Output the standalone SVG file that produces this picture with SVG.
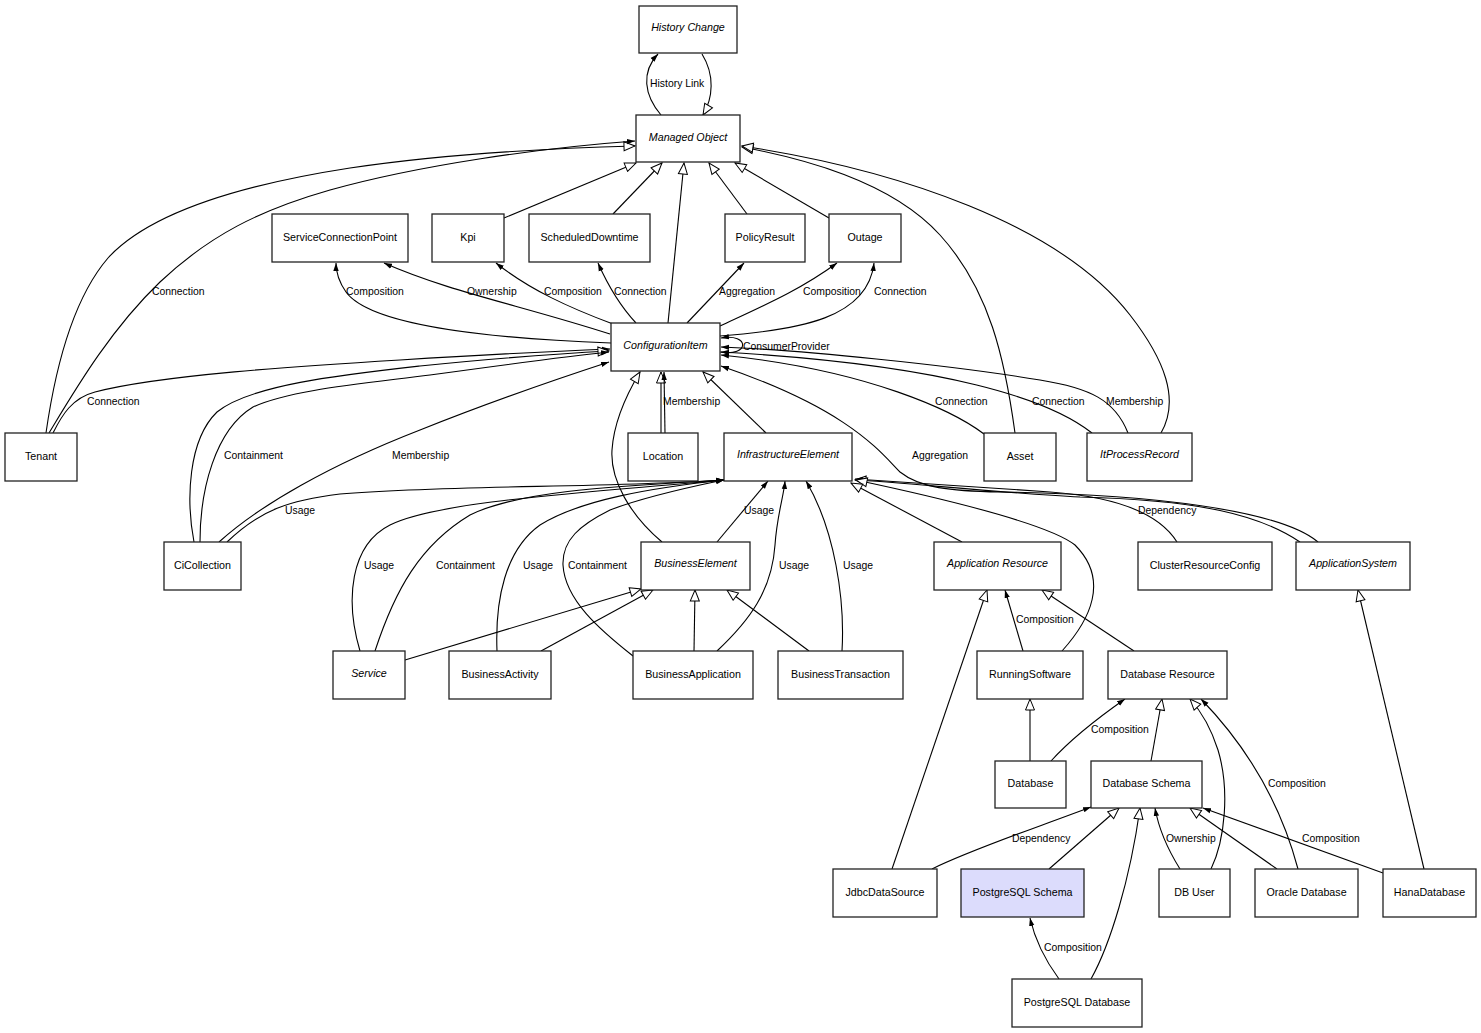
<svg xmlns="http://www.w3.org/2000/svg" width="1481" height="1033" viewBox="0 0 1481 1033">
<style>
.n rect{fill:#fff;stroke:#222;stroke-width:1.3}
.n text{font-family:"Liberation Sans",Arial,sans-serif;font-size:10.7px;text-anchor:middle;fill:#000}
.n.i text{font-style:italic}
#edges path{fill:none;stroke:#000;stroke-width:1.1}
#edges .g{marker-end:url(#gen)}
#edges .a{marker-end:url(#arr)}
#labels text{font-family:"Liberation Sans",Arial,sans-serif;font-size:10.4px;fill:#000}
</style>
<defs>
<marker id="gen" markerUnits="userSpaceOnUse" markerWidth="13" markerHeight="11" refX="12" refY="5.5" orient="auto"><path d="M1,1 L12,5.5 L1,10 Z" fill="#fff" stroke="#000" stroke-width="1"/></marker>
<marker id="arr" markerUnits="userSpaceOnUse" markerWidth="9" markerHeight="7" refX="8" refY="3.5" orient="auto"><path d="M0,0.8 L8,3.5 L0,6.2 Z" fill="#000"/></marker>
</defs>
<rect width="1481" height="1033" fill="#fff"/>
<g id="edges">
<path class="a" d="M661,115 C644,95 641,72 658,54"/>
<path class="g" d="M702,54 C715,75 713,98 703,115"/>
<path class="g" d="M46,433 C55,370 72,300 108,258 C150,212 240,185 350,168 C450,153 560,148 635,146"/>
<path class="a" d="M49,433 C75,390 110,330 160,282 C210,235 260,210 330,190 C420,165 540,148 635,141"/>
<path class="a" d="M53,433 C62,415 72,398 95,392 C160,375 300,366 400,360 C480,355 560,351 610,349"/>
<path class="a" d="M611,343 C480,338 370,325 346,292 C339,282 336,272 336,263"/>
<path class="a" d="M610,334 C520,305 450,292 384,263"/>
<path class="a" d="M613,324 C570,308 530,290 496,263"/>
<path class="a" d="M636,323 C622,308 610,290 598,263"/>
<path class="g" d="M668,323 L684,163"/>
<path class="a" d="M687,323 L744,263"/>
<path class="a" d="M720,326 C765,305 800,290 837,263"/>
<path class="a" d="M720,336 C800,330 868,318 874,263"/>
<path class="g" d="M504,218 L636,163"/>
<path class="g" d="M613,214 L662,163"/>
<path class="g" d="M747,214 L709,163"/>
<path class="g" d="M829,218 L735,163"/>
<path class="g" d="M1015,433 C1005,360 990,290 940,235 C890,180 800,158 742,147"/>
<path class="g" d="M1161,433 C1180,400 1165,360 1130,315 C1060,225 900,170 742,146"/>
<path class="a" d="M720,352 C750,357 750,333 721,338"/>
<path class="a" d="M984,434 C955,412 870,370 721,355"/>
<path class="a" d="M1092,433 C1050,400 950,365 721,352"/>
<path class="a" d="M1128,433 C1115,400 1090,388 1040,380 C950,365 800,350 721,347"/>
<path class="a" d="M1318,542 C1280,510 1150,494 1000,492 C950,491 920,488 900,472 C880,452 850,410 721,366"/>
<path class="g" d="M1300,542 C1260,515 1200,500 1080,497 C1000,493 900,482 855,480"/>
<path class="a" d="M1177,542 C1160,515 1120,497 1050,492 C980,487 900,482 855,479"/>
<path class="g" d="M1062,651 C1090,620 1110,580 1075,545 C1050,525 950,500 856,480"/>
<path class="g" d="M962,542 L851,483"/>
<path class="a" d="M717,542 L768,481"/>
<path class="a" d="M717,651 C750,620 772,590 775,545 C777,515 784,495 785,481"/>
<path class="a" d="M842,651 C845,600 835,530 806,481"/>
<path class="g" d="M662,542 C630,515 610,480 612,450 C614,420 628,392 640,372"/>
<path class="g" d="M766,433 L703,372"/>
<path class="g" d="M661,433 L661,372"/>
<path class="a" d="M665,433 L664,372"/>
<path class="g" d="M194,542 C186,500 188,440 217,412 C250,385 340,375 420,366 C500,358 570,353 609,351"/>
<path class="a" d="M200,542 C200,490 215,430 253,407 C290,390 360,384 430,375 C510,364 570,356 609,352"/>
<path class="a" d="M219,542 C260,505 330,465 420,430 C500,398 560,378 609,362"/>
<path class="a" d="M227,542 C260,510 290,500 340,494 C450,485 600,488 724,480"/>
<path class="a" d="M360,651 C345,600 350,545 390,525 C440,500 600,492 724,480"/>
<path class="a" d="M375,651 C395,590 420,545 470,515 C520,490 620,486 724,480"/>
<path class="a" d="M497,651 C495,600 505,550 540,525 C580,500 650,488 724,480"/>
<path class="a" d="M633,656 C600,630 565,600 563,565 C562,540 580,525 610,510 C650,495 700,485 724,480"/>
<path class="g" d="M405,660 L641,589"/>
<path class="g" d="M541,651 L653,590"/>
<path class="g" d="M694,651 L695,590"/>
<path class="g" d="M809,651 L727,590"/>
<path class="a" d="M1023,651 L1005,590"/>
<path class="g" d="M1134,651 L1042,590"/>
<path class="g" d="M892,869 L987,590"/>
<path class="g" d="M1030,761 L1030,699"/>
<path class="a" d="M1051,761 C1070,740 1095,720 1125,699"/>
<path class="g" d="M1151,761 L1162,699"/>
<path class="g" d="M1211,869 C1225,840 1230,790 1218,750 C1210,725 1200,710 1190,699"/>
<path class="a" d="M1298,869 C1285,820 1260,760 1201,699"/>
<path class="a" d="M932,869 C970,850 1030,830 1091,807"/>
<path class="g" d="M1049,869 L1119,808"/>
<path class="g" d="M1091,979 C1110,945 1130,880 1140,808"/>
<path class="a" d="M1059,979 C1045,960 1035,940 1030,918"/>
<path class="a" d="M1180,869 C1165,845 1158,825 1155,808"/>
<path class="g" d="M1277,869 L1190,808"/>
<path class="a" d="M1383,873 L1203,808"/>
<path class="g" d="M1424,869 L1358,590"/>
</g>
<g id="labels">
<text x="650" y="87">History Link</text>
<text x="152" y="295">Connection</text>
<text x="346" y="295">Composition</text>
<text x="467" y="295">Ownership</text>
<text x="544" y="295">Composition</text>
<text x="614" y="295">Connection</text>
<text x="719" y="295">Aggregation</text>
<text x="803" y="295">Composition</text>
<text x="874" y="295">Connection</text>
<text x="743" y="350">ConsumerProvider</text>
<text x="87" y="405">Connection</text>
<text x="663" y="405">Membership</text>
<text x="935" y="405">Connection</text>
<text x="1032" y="405">Connection</text>
<text x="1106" y="405">Membership</text>
<text x="224" y="459">Containment</text>
<text x="392" y="459">Membership</text>
<text x="912" y="459">Aggregation</text>
<text x="285" y="514">Usage</text>
<text x="744" y="514">Usage</text>
<text x="1138" y="514">Dependency</text>
<text x="364" y="569">Usage</text>
<text x="436" y="569">Containment</text>
<text x="523" y="569">Usage</text>
<text x="568" y="569">Containment</text>
<text x="779" y="569">Usage</text>
<text x="843" y="569">Usage</text>
<text x="1016" y="623">Composition</text>
<text x="1091" y="733">Composition</text>
<text x="1268" y="787">Composition</text>
<text x="1012" y="842">Dependency</text>
<text x="1166" y="842">Ownership</text>
<text x="1302" y="842">Composition</text>
<text x="1044" y="951">Composition</text>
</g>
<g id="HistoryChange" class="n i"><rect x="639" y="6" width="98" height="47"/><text x="688" y="31">History Change</text></g>
<g id="ManagedObject" class="n i"><rect x="636" y="115" width="104" height="47"/><text x="688" y="141">Managed Object</text></g>
<g id="ServiceConnectionPoint" class="n"><rect x="272" y="214" width="136" height="48"/><text x="340" y="241">ServiceConnectionPoint</text></g>
<g id="Kpi" class="n"><rect x="432" y="214" width="72" height="48"/><text x="468" y="241">Kpi</text></g>
<g id="ScheduledDowntime" class="n"><rect x="529" y="214" width="121" height="48"/><text x="589.5" y="241">ScheduledDowntime</text></g>
<g id="PolicyResult" class="n"><rect x="725" y="214" width="80" height="48"/><text x="765" y="241">PolicyResult</text></g>
<g id="Outage" class="n"><rect x="829" y="214" width="72" height="48"/><text x="865" y="241">Outage</text></g>
<g id="ConfigurationItem" class="n i"><rect x="611" y="323" width="109" height="48"/><text x="665.5" y="349">ConfigurationItem</text></g>
<g id="Tenant" class="n"><rect x="5" y="433" width="72" height="48"/><text x="41" y="460">Tenant</text></g>
<g id="Location" class="n"><rect x="628" y="433" width="70" height="48"/><text x="663" y="460">Location</text></g>
<g id="InfrastructureElement" class="n i"><rect x="724" y="433" width="128" height="48"/><text x="788" y="458">InfrastructureElement</text></g>
<g id="Asset" class="n"><rect x="984" y="433" width="72" height="48"/><text x="1020" y="460">Asset</text></g>
<g id="ItProcessRecord" class="n i"><rect x="1087" y="433" width="105" height="48"/><text x="1139.5" y="458">ItProcessRecord</text></g>
<g id="CiCollection" class="n"><rect x="164" y="542" width="77" height="48"/><text x="202.5" y="569">CiCollection</text></g>
<g id="BusinessElement" class="n i"><rect x="641" y="542" width="109" height="48"/><text x="695.5" y="567">BusinessElement</text></g>
<g id="ApplicationResource" class="n i"><rect x="934" y="542" width="127" height="48"/><text x="997.5" y="567">Application Resource</text></g>
<g id="ClusterResourceConfig" class="n"><rect x="1138" y="542" width="134" height="48"/><text x="1205" y="569">ClusterResourceConfig</text></g>
<g id="ApplicationSystem" class="n i"><rect x="1296" y="542" width="114" height="48"/><text x="1353" y="567">ApplicationSystem</text></g>
<g id="Service" class="n i"><rect x="333" y="651" width="72" height="48"/><text x="369" y="677">Service</text></g>
<g id="BusinessActivity" class="n"><rect x="449" y="651" width="102" height="48"/><text x="500" y="678">BusinessActivity</text></g>
<g id="BusinessApplication" class="n"><rect x="633" y="651" width="120" height="48"/><text x="693" y="678">BusinessApplication</text></g>
<g id="BusinessTransaction" class="n"><rect x="778" y="651" width="125" height="48"/><text x="840.5" y="678">BusinessTransaction</text></g>
<g id="RunningSoftware" class="n"><rect x="977" y="651" width="106" height="48"/><text x="1030" y="678">RunningSoftware</text></g>
<g id="DatabaseResource" class="n"><rect x="1108" y="651" width="119" height="48"/><text x="1167.5" y="678">Database Resource</text></g>
<g id="Database" class="n"><rect x="995" y="761" width="71" height="47"/><text x="1030.5" y="787">Database</text></g>
<g id="DatabaseSchema" class="n"><rect x="1091" y="761" width="111" height="47"/><text x="1146.5" y="787">Database Schema</text></g>
<g id="JdbcDataSource" class="n"><rect x="833" y="869" width="104" height="48"/><text x="885" y="896">JdbcDataSource</text></g>
<g id="PostgreSQLSchema" class="n"><rect x="961" y="869" width="123" height="48" style="fill:#dcdcfc"/><text x="1022.5" y="896">PostgreSQL Schema</text></g>
<g id="DBUser" class="n"><rect x="1159" y="869" width="71" height="48"/><text x="1194.5" y="896">DB User</text></g>
<g id="OracleDatabase" class="n"><rect x="1255" y="869" width="103" height="48"/><text x="1306.5" y="896">Oracle Database</text></g>
<g id="HanaDatabase" class="n"><rect x="1383" y="869" width="93" height="48"/><text x="1429.5" y="896">HanaDatabase</text></g>
<g id="PostgreSQLDatabase" class="n"><rect x="1012" y="979" width="130" height="48"/><text x="1077" y="1006">PostgreSQL Database</text></g>
</svg>
